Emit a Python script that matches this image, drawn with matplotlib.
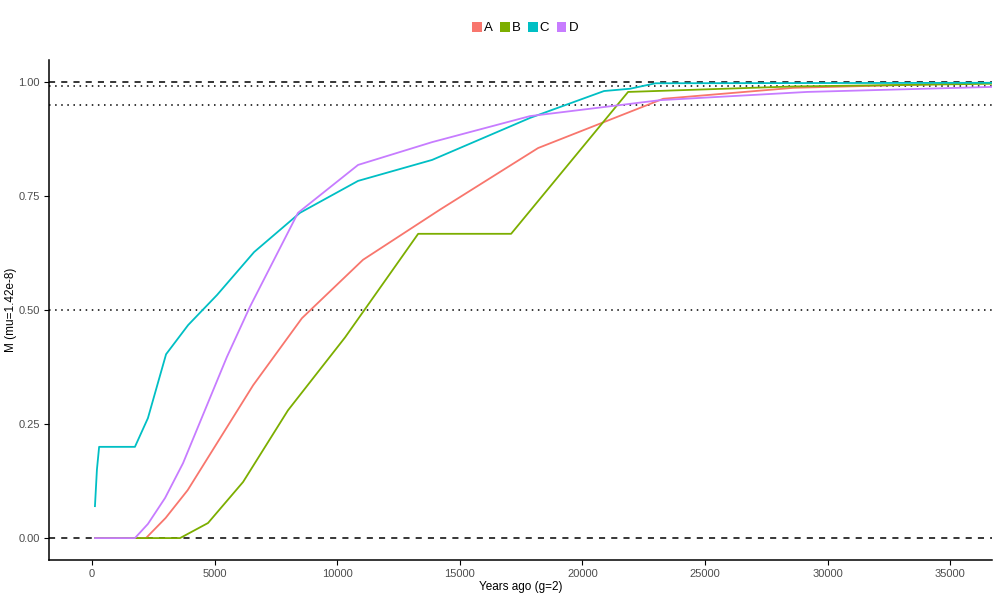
import matplotlib
matplotlib.use("Agg")
import matplotlib.pyplot as plt
from matplotlib.patches import Patch

plt.rcParams['font.family'] = ['Liberation Sans', 'DejaVu Sans']

series_names = ["A", "B", "C", "D"]
colors = ["#F8766D", "#7CAE00", "#00BFC4", "#C77CFF"]

a_x = [120, 1750, 2200, 3000, 3900, 6570, 8560, 11050, 14190, 18190, 23290, 28600, 36700]
a_y = [0.0, 0.0, 0.0, 0.044, 0.105, 0.335, 0.482, 0.61, 0.72, 0.855, 0.963, 0.987, 0.998]

b_x = [120, 1750, 3590, 4730, 6160, 7990, 10320, 13300, 17090, 21860, 28600, 36700]
b_y = [0.0, 0.0, 0.0, 0.033, 0.123, 0.28, 0.44, 0.667, 0.667, 0.978, 0.99, 0.996]

c_x = [120, 200, 290, 1750, 2280, 3020, 3920, 5100, 6610, 8480, 10850, 13870, 17860, 20880, 21940, 22980, 36700]
c_y = [0.07, 0.15, 0.2, 0.2, 0.263, 0.403, 0.467, 0.533, 0.627, 0.713, 0.783, 0.829, 0.921, 0.98, 0.985, 0.997, 0.998]

d_x = [120, 1750, 2280, 2980, 3710, 5500, 6440, 8400, 10850, 13870, 17860, 23170, 29160, 36700]
d_y = [0.0, 0.0, 0.031, 0.088, 0.164, 0.397, 0.507, 0.713, 0.818, 0.868, 0.925, 0.96, 0.978, 0.989]

xs = [a_x, b_x, c_x, d_x]
ys = [a_y, b_y, c_y, d_y]

fig = plt.figure(figsize=(10, 6), dpi=100)
ax = fig.add_axes([0.049, 0.0667, 0.943, 0.8333])

for yv in [0.0, 1.0]:
    ax.axhline(yv, color="black", linestyle=(0, (4, 4)), linewidth=1.1, zorder=1)
for yv in [0.5, 0.95, 0.99]:
    ax.axhline(yv, color="black", linestyle=(0, (1, 3)), linewidth=1.1, zorder=1)

for x, y, c in zip(xs, ys, colors):
    ax.plot(x, y, color=c, linewidth=1.3, zorder=2)

ax.set_xlim(-1754, 36700)
ax.set_ylim(-0.048, 1.048)
ax.set_xticks([0, 5000, 10000, 15000, 20000, 25000, 30000, 35000])
ax.set_yticks([0, 0.25, 0.5, 0.75, 1.0])
ax.set_yticklabels(["0.00", "0.25", "0.50", "0.75", "1.00"])
ax.tick_params(axis='both', labelsize=8, colors="black", labelcolor="#4D4D4D", length=3.5, width=0.8, pad=3)
for s in ["top", "right"]:
    ax.spines[s].set_visible(False)
for s in ["left", "bottom"]:
    ax.spines[s].set_linewidth(1.1)
ax.set_xlabel("Years ago (g=2)", fontsize=8.5)
ax.xaxis.set_label_coords(0.5, -0.043)
ax.set_ylabel("M (mu=1.42e-8)", fontsize=8.5)
ax.yaxis.set_label_coords(-0.034, 0.5)

handles = [Patch(facecolor=c, edgecolor='none') for c in colors]
fig.legend(handles, series_names, loc="center", bbox_to_anchor=(0.525, 0.953), ncol=4,
           frameon=False, fontsize=9.5, handlelength=0.75, handleheight=0.75,
           handletextpad=0.15, columnspacing=0.55)

fig.savefig("out.png", dpi=100)
